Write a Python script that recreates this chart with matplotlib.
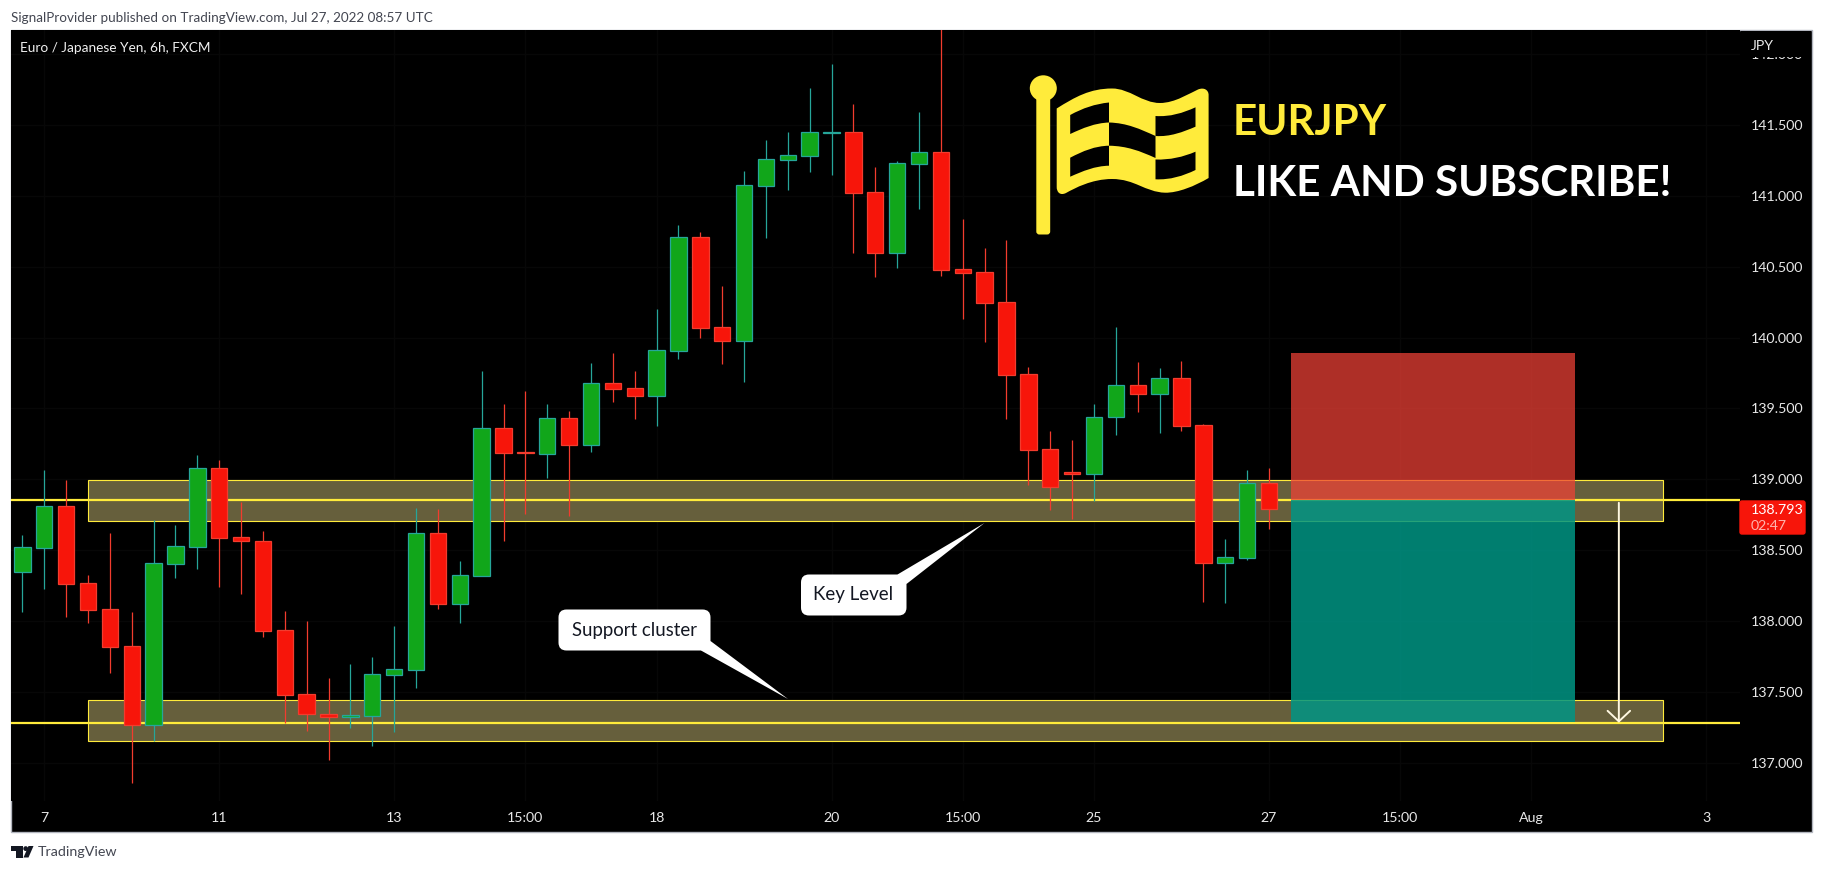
import matplotlib
matplotlib.use("Agg")
import matplotlib.pyplot as plt
from matplotlib.patches import Rectangle, Polygon, FancyBboxPatch, Ellipse, PathPatch
from matplotlib.path import Path

W, H = 1823, 872
FONT = "Lato"

# EURJPY 6h candles
opens = [138.350, 138.519, 138.811, 138.268, 138.084, 137.823, 137.266, 138.406, 138.526, 139.079,
         138.592, 138.564, 137.936, 137.485, 137.349, 137.323, 137.334, 137.624, 137.659, 138.620,
         138.124, 138.322, 139.361, 139.195, 139.182, 139.431, 139.239, 139.678, 139.643, 139.591,
         139.908, 140.707, 140.073, 139.979, 141.072, 141.255, 141.283, 141.445, 141.448, 141.025,
         140.599, 141.227, 141.307, 140.482, 140.460, 140.249, 139.741, 139.212, 139.050, 139.036,
         139.438, 139.664, 139.605, 139.713, 139.382, 138.413, 138.448, 138.972]
highs = [138.609, 139.067, 138.996, 138.326, 138.623, 138.068, 138.714, 138.679, 139.173, 139.137,
         138.841, 138.637, 138.073, 138.002, 137.600, 137.699, 137.748, 137.967, 138.799, 138.792,
         138.425, 139.765, 139.532, 139.624, 139.532, 139.483, 139.821, 139.892, 139.765, 140.202,
         140.794, 140.745, 140.364, 141.175, 141.394, 141.450, 141.760, 141.930, 141.648, 141.203,
         141.243, 141.591, 142.400, 140.837, 140.632, 140.688, 139.791, 139.342, 139.278, 139.532,
         140.075, 139.828, 139.786, 139.835, 139.391, 138.580, 139.067, 139.081]
lows = [138.068, 138.230, 138.033, 137.990, 137.638, 136.862, 137.153, 138.308, 138.369, 138.244,
        138.195, 137.885, 137.285, 137.229, 137.024, 137.250, 137.123, 137.222, 137.532, 138.087,
        137.990, 138.322, 138.562, 138.759, 139.013, 138.745, 139.196, 139.549, 139.427, 139.379,
        139.849, 140.000, 139.816, 139.689, 140.705, 141.043, 141.170, 141.149, 140.599, 140.430,
        140.493, 140.909, 140.437, 140.134, 139.972, 139.429, 138.963, 138.787, 138.723, 138.846,
        139.316, 139.476, 139.330, 139.344, 138.138, 138.131, 138.434, 138.653]
closes = [138.522, 138.811, 138.265, 138.082, 137.821, 137.266, 138.409, 138.529, 139.079, 138.590,
          138.562, 137.934, 137.483, 137.349, 137.323, 137.337, 137.626, 137.661, 138.620, 138.124,
          138.324, 139.361, 139.189, 139.185, 139.431, 139.239, 139.678, 139.640, 139.591, 139.910,
          140.707, 140.070, 139.979, 141.074, 141.257, 141.286, 141.448, 141.450, 141.022, 140.599,
          141.229, 141.307, 140.479, 140.458, 140.247, 139.739, 139.210, 138.944, 139.036, 139.438,
          139.664, 139.605, 139.713, 139.379, 138.413, 138.451, 138.972, 138.789]

time_ticks = [1, 9, 17, 23, 29, 37, 43, 49, 57, 63, 69, 77]
time_labels = ["7", "11", "13", "15:00", "18", "20", "15:00", "25", "27", "15:00", "Aug", "3"]
price_ticks = [137.0, 137.5, 138.0, 138.5, 139.0, 139.5, 140.0, 140.5, 141.0, 141.5, 142.0]

# drawings on the chart
key_band = (138.704, 138.993)
support_band = (137.152, 137.442)
band_span = (3.0, 75.0)
key_line = 138.855
support_line = 137.284
stop_price = 139.891
target_price = 137.289
position_span = (58.0, 71.0)
arrow_bar = 73.0
last_price = "138.793"
countdown = "02:47"

GREEN, GREEN_EDGE = "#11A61A", "#26A69A"
RED, RED_EDGE = "#F7150A", "#F23C2E"
YELLOW = "#FFEB3B"
FLAG = "#FFEB3B"


def frac_x(px):
    return px / W


def frac_y(py):
    return 1 - py / H


fig = plt.figure(figsize=(W / 100, H / 100), dpi=100, facecolor="white")

# black panel with the thin grey frame
fig.add_artist(Rectangle((frac_x(11), frac_y(832)), frac_x(1800.5), 802 / H, transform=fig.transFigure,
                         facecolor="black", edgecolor="#B2B5BE", linewidth=1, zorder=0))

ax = fig.add_axes([frac_x(11), frac_y(801), frac_x(1729), 771 / H], facecolor="black", zorder=1)
ax.set_xlim(-0.52, 78.54)
ax.set_ylim(136.732, 142.169)
for side in ax.spines.values():
    side.set_visible(False)

ax.set_xticks(time_ticks, time_labels)
ax.set_yticks(price_ticks, [f"{p:.3f}" for p in price_ticks])
ax.yaxis.tick_right()
ax.tick_params(axis="x", length=0, pad=8, labelcolor="#E8E8E8", labelsize=10.2)
ax.tick_params(axis="y", length=0, pad=7.6, labelcolor="#E8E8E8", labelsize=10.2)
for lab in ax.get_xticklabels() + ax.get_yticklabels():
    lab.set_family(FONT)
ax.grid(True, color="#070707", linewidth=1, zorder=0)
ax.set_axisbelow(True)

# support and resistance zones
for low, high in (key_band, support_band):
    ax.add_patch(Rectangle((band_span[0], low), band_span[1] - band_span[0], high - low,
                           facecolor="#665F3C", edgecolor=YELLOW, linewidth=0.8, zorder=1))
ax.axhline(key_line, color=YELLOW, linewidth=1.6, zorder=2)
ax.axhline(support_line, color=YELLOW, linewidth=1.6, zorder=2)

# candles
for i in range(len(opens)):
    up = closes[i] >= opens[i]
    ax.vlines(i, lows[i], highs[i], color=GREEN_EDGE if up else RED_EDGE, linewidth=0.9, zorder=3)
    ax.bar(i, abs(closes[i] - opens[i]), width=0.75, bottom=min(opens[i], closes[i]),
           color=GREEN if up else RED, edgecolor=GREEN_EDGE if up else RED_EDGE,
           linewidth=0.9, zorder=4)

# short position box
ax.add_patch(Rectangle((position_span[0], key_line), position_span[1] - position_span[0],
                       stop_price - key_line, facecolor=(239 / 255, 65 / 255, 54 / 255, 0.735),
                       edgecolor="none", zorder=5))
ax.add_patch(Rectangle((position_span[0], target_price), position_span[1] - position_span[0],
                       key_line - target_price, facecolor=(0, 149 / 255, 132 / 255, 0.85),
                       edgecolor="none", zorder=5))
ax.annotate("", xy=(arrow_bar, support_line), xytext=(arrow_bar, key_line - 0.02),
            arrowprops=dict(arrowstyle="->,head_length=0.76,head_width=0.81", color="#FFF8E1",
                            linewidth=1.4, shrinkA=0, shrinkB=0), zorder=6)

# everything else is placed in picture pixels
pix = fig.add_axes([0, 0, 1, 1], facecolor="none", zorder=2)
pix.set_xlim(0, W)
pix.set_ylim(H, 0)
pix.axis("off")

pix.text(11, 17.5, "SignalProvider published on TradingView.com, Jul 27, 2022 08:57 UTC",
         family=FONT, fontsize=9.75, color="#434651", va="center")
pix.text(20, 47.5, "Euro / Japanese Yen, 6h, FXCM", family=FONT, fontsize=9.85, color="#F0F0F0", va="center")

# hides the top of the clipped 142.000 label
pix.add_patch(Rectangle((1741, 31), 69.5, 26.5, facecolor="black", edgecolor="none"))
pix.text(1751, 46, "JPY", family=FONT, fontsize=10.2, color="#E8E8E8", va="center")

# last price tag
pix.add_patch(FancyBboxPatch((1740, 501), 65, 33, boxstyle="round,pad=0,rounding_size=2",
                             facecolor=RED, edgecolor=RED, linewidth=1))
pix.text(1751, 510, last_price, family=FONT, fontsize=10.2, color="white", va="center")
pix.text(1751, 526, countdown, family=FONT, fontsize=10.2, color="#FFB3AD", va="center")

# callouts
pix.add_patch(Polygon([(897.5, 574.5), (984.5, 523), (906.5, 584)], facecolor="white", edgecolor="none"))
pix.add_patch(FancyBboxPatch((801, 574.5), 105.5, 41, boxstyle="round,pad=0,rounding_size=8",
                             facecolor="white", edgecolor="none"))
pix.text(853.5, 594, "Key Level", family=FONT, fontsize=13.5, color="#131722", ha="center", va="center")

pix.add_patch(Polygon([(710.5, 641), (788, 699), (701, 650.5)], facecolor="white", edgecolor="none"))
pix.add_patch(FancyBboxPatch((558.5, 609.5), 152, 41, boxstyle="round,pad=0,rounding_size=8",
                             facecolor="white", edgecolor="none"))
pix.text(634.5, 630, "Support cluster", family=FONT, fontsize=13.4, color="#131722", ha="center", va="center")

# flag icon
M, L, C, Z = Path.MOVETO, Path.LINETO, Path.CURVE4, Path.CLOSEPOLY


def flag_shape(start, segments, **kw):
    verts, codes = [start], [M]
    for seg in segments:
        if len(seg) == 1:
            verts += seg
            codes += [L]
        else:
            verts += seg
            codes += [C, C, C]
    verts.append(start)
    codes.append(Z)
    pix.add_patch(PathPatch(Path(verts, codes), edgecolor="none", **kw))


pix.add_patch(Ellipse((1043.3, 88.3), 27, 26, facecolor=FLAG, edgecolor="none"))
pix.add_patch(FancyBboxPatch((1036.3, 95), 13.9, 139.5, boxstyle="round,pad=0,rounding_size=3",
                             facecolor=FLAG, edgecolor="none"))
flag_shape((1056.7, 108.5), [
    [(1075, 97), (1090, 88.5), (1112, 88.5)],
    [(1130, 88.5), (1142, 103), (1160, 103)],
    [(1175, 103), (1190, 93), (1198, 89.5)],
    [(1204, 87), (1208.6, 90), (1208.6, 95)],
    [(1208.6, 178)],
    [(1195, 186), (1178, 193), (1165, 192.7)],
    [(1145, 192), (1135, 179), (1112, 179)],
    [(1092, 179), (1075, 188), (1066, 193)],
    [(1060, 196), (1056.7, 192), (1056.7, 187)],
], facecolor=FLAG)
flag_shape((1070.2, 115), [[(1083, 108), (1095, 104), (1109, 102.5)], [(1109, 122.5)],
                           [(1095, 123), (1083, 128), (1070.2, 134)]], facecolor="black")
flag_shape((1109, 122.5), [[(1127, 123), (1140, 129), (1155.5, 136)], [(1155.5, 158)],
                           [(1140, 151), (1127, 146), (1109, 145.7)]], facecolor="black")
flag_shape((1155.5, 116), [[(1170, 117), (1183, 113), (1195.5, 107.3)], [(1195.5, 126.7)],
                           [(1183, 132), (1170, 137), (1155.5, 136)]], facecolor="black")
flag_shape((1070.2, 157.7), [[(1083, 151), (1095, 146), (1109, 145.7)], [(1109, 165.7)],
                             [(1095, 166), (1083, 171), (1070.2, 176.7)]], facecolor="black")
flag_shape((1155.5, 159.5), [[(1170, 160), (1183, 157), (1195.5, 151.7)], [(1195.5, 170)],
                             [(1183, 176), (1170, 180), (1155.5, 179.3)]], facecolor="black")

pix.text(1233, 123, "EURJPY", family=FONT, fontweight="bold", fontsize=30.4, color=FLAG, va="center")
pix.text(1233, 183.5, "LIKE AND SUBSCRIBE!", family=FONT, fontweight="bold", fontsize=30.4, color="white", va="center")

# footer logo
pix.add_patch(Polygon([(11, 846), (22.5, 846), (22.5, 857.5), (16, 857.5), (16, 851), (11, 851)],
                      facecolor="#131722", edgecolor="none"))
pix.add_patch(Ellipse((25.7, 848.6), 4.8, 4.8, facecolor="#131722", edgecolor="none"))
pix.add_patch(Polygon([(28.5, 846), (33.5, 846), (28.5, 857.5), (23.5, 857.5)],
                      facecolor="#131722", edgecolor="none"))
pix.text(38, 852, "TradingView", family=FONT, fontsize=10.3, color="#434651", va="center")

fig.savefig("out.png", dpi=100, facecolor="white")
